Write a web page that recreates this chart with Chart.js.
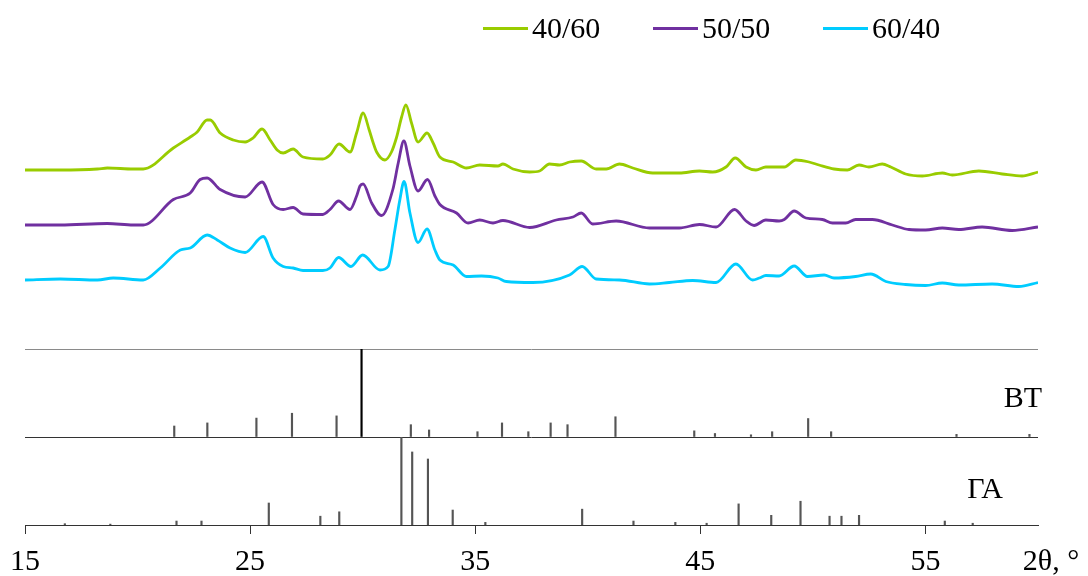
<!DOCTYPE html>
<html>
<head>
<meta charset="utf-8">
<script src="https://cdn.jsdelivr.net/npm/chart.js@4.4.1/dist/chart.umd.min.js"></script>
<style>
  html, body { margin: 0; padding: 0; background: #fff; }
  #wrap { position: relative; width: 1088px; height: 576px; }
  #legend {
    position: absolute; left: 483px; top: 10px;
    display: flex; font: 30px 'Liberation Serif', 'Times New Roman', serif;
    line-height: 36px; color: #000;
  }
  #legend .item { width: 170px; display: flex; align-items: center; }
  #legend .swatch { width: 45px; height: 3px; margin-right: 4px; }
</style>
</head>
<body>
<div id="wrap">
  <canvas id="xrdChart" width="1088" height="576"></canvas>
  <div id="legend"></div>
</div>
<script>
// x axis ticks (2θ, degrees)
const xTicks = [15, 25, 35, 45, 55];
const seriesLabels = ['40/60', '50/50', '60/40'];

// diffraction patterns: [2θ, intensity a.u.] (each relative to its own baseline)
const series40_60 = [
  [15.0, 0], [16.57, 0], [18.22, 1], [18.66, 2], [19.81, 1], [20.25, 1], [21.59, 22], [22.34, 33],
  [22.65, 38], [23.09, 50], [23.23, 50], [23.67, 37], [24.25, 30], [24.78, 28], [25.13, 32], [25.53, 41],
  [25.89, 30], [26.2, 20], [26.47, 17], [26.91, 21], [27.35, 13], [28.23, 11], [28.55, 15], [28.95, 26],
  [29.44, 18], [29.73, 37], [30.02, 57], [30.29, 40], [30.47, 27], [30.62, 18], [30.99, 10], [31.28, 18],
  [31.51, 33], [31.73, 53], [31.92, 65], [32.17, 47], [32.46, 28], [32.86, 37], [33.13, 27], [33.43, 13],
  [34.02, 8], [34.61, 2], [35.2, 5], [36.01, 4], [36.23, 6], [36.68, 1], [37.42, -2], [37.86, -1],
  [38.3, 6], [38.75, 5], [39.19, 8], [39.71, 9], [40.37, 1], [40.82, 1], [41.41, 6], [42.0, 2],
  [42.88, -3], [44.07, -3], [44.96, -1], [45.55, -2], [46.14, 3], [46.55, 12], [47.03, 3], [47.47, 0],
  [47.91, 3], [48.21, 3], [48.73, 3], [49.24, 10], [49.83, 8], [50.27, 5], [50.94, 1], [51.53, 0],
  [52.05, 5], [52.49, 3], [53.08, 6], [53.46, 3], [54.12, -4], [54.86, -6], [55.75, -3], [56.19, -5],
  [57.37, -1], [58.41, -4], [59.29, -6], [60.0, -2]
];
const series50_50 = [
  [15.0, 0], [16.57, 0], [18.66, 1.5], [19.81, 0], [20.25, 0], [21.59, 25.5], [22.34, 32], [22.78, 45.5],
  [23.09, 47], [23.67, 35.5], [24.78, 28], [25.53, 43], [26.02, 20.5], [26.47, 15.5], [26.91, 17.5], [27.35, 11],
  [28.23, 10.5], [28.55, 15.5], [28.93, 24], [29.44, 15.5], [29.73, 29], [29.88, 39], [30.02, 41], [30.4, 22],
  [30.84, 9.5], [31.34, 35.5], [31.58, 62], [31.83, 84], [32.1, 59], [32.46, 34], [32.88, 45.5], [33.21, 29],
  [33.43, 20.5], [34.17, 12], [34.68, 2], [35.2, 5], [35.79, 2], [36.23, 4.5], [37.42, -2.5], [38.6, 5],
  [39.34, 8], [39.71, 12], [40.22, 1], [41.26, 4], [42.74, -3], [44.07, -3], [44.96, 0.5], [45.7, -2],
  [46.52, 15.5], [47.03, 4], [47.39, -0.5], [47.91, 5], [48.5, 4], [48.73, 5.5], [49.17, 14], [49.69, 7],
  [50.42, 5.5], [50.87, 2], [51.46, 2], [51.9, 5.5], [52.64, 5.5], [53.53, 0], [54.27, -4.5], [55.01, -5],
  [55.75, -3], [56.48, -4.5], [57.52, -2], [58.85, -5.5], [60.0, -2]
];
const series60_40 = [
  [15.0, 0], [16.57, 1], [18.22, 0], [18.92, 2], [20.25, 0], [21.01, 12], [21.9, 30], [22.34, 32],
  [23.09, 45], [23.54, 40], [24.11, 32], [24.78, 27.5], [25.58, 43.5], [26.02, 22], [26.47, 13.5], [26.91, 12],
  [27.35, 9.5], [28.23, 9.5], [28.55, 12], [28.93, 22.5], [29.48, 13.5], [30.0, 25], [30.77, 10], [31.13, 13.5],
  [31.43, 50], [31.65, 80], [31.84, 98.5], [32.1, 67], [32.46, 37.5], [32.86, 51], [33.21, 30], [33.43, 20],
  [34.02, 15], [34.61, 3.5], [35.28, 4], [36.01, 2], [36.38, -1.5], [37.56, -2.5], [39.19, 5], [39.75, 13.5],
  [40.37, 1], [41.41, 0], [42.74, -4], [43.62, -2.5], [44.66, -0.5], [45.7, -2.5], [46.58, 16], [47.32, 0],
  [47.62, 2], [47.91, 4.5], [48.5, 4], [49.17, 14], [49.76, 3.5], [50.5, 5], [50.94, 2], [51.9, 3.5],
  [52.57, 6], [53.24, -1.5], [54.12, -4.5], [55.01, -5.5], [55.75, -3], [56.48, -5], [57.96, -4], [59.15, -6.5],
  [60.0, -2.5]
];

// reference stick patterns: [2θ, relative intensity %]
const btSticks = [
  [21.63, 12.5], [23.1, 16], [25.28, 21.5], [26.86, 27], [28.84, 24], [29.95, 100], [32.14, 14], [32.95, 8],
  [35.1, 6], [36.19, 16], [37.36, 6], [38.35, 16], [39.1, 14], [41.23, 23], [44.73, 7], [45.65, 4],
  [47.25, 2.5], [48.19, 6], [49.79, 21], [50.81, 6], [56.38, 3], [59.62, 3]
];
const gaSticks = [
  [16.77, 1.5], [18.79, 1], [21.73, 4.5], [22.84, 4.5], [25.83, 25], [28.12, 10], [28.96, 15], [31.72, 100],
  [32.2, 83], [32.9, 75], [34.0, 17], [35.45, 3], [39.75, 18], [42.03, 4.5], [43.89, 3], [45.28, 2],
  [46.7, 24], [48.15, 11], [49.45, 27], [50.74, 10], [51.27, 10], [52.05, 11], [55.86, 4.5], [57.1, 2]
];

const colors = ['#99cc00', '#7030a0', '#00ccff'];
const offsets = [179, 124, 69];   // vertical shift of each pattern
const serif = "'Liberation Serif', 'Times New Roman', serif";

Chart.defaults.font.family = serif;
Chart.defaults.color = '#000';

const traces = [series40_60, series50_50, series60_40].map((s, i) => ({
    type: 'line',
    label: seriesLabels[i],
    data: s.map(p => ({ x: p[0], y: p[1] + offsets[i] })),
    borderColor: colors[i],
    backgroundColor: colors[i],
    borderWidth: 2.8,
    pointRadius: 0,
    cubicInterpolationMode: 'monotone',
    yAxisID: 'yTrace'
}));

const sticks = (arr, axis) => ({
    type: 'bar',
    label: axis,
    data: arr.map(p => ({ x: p[0], y: p[1] })),
    backgroundColor: ctx => (ctx.raw && ctx.raw.y >= 100 && axis === 'yBT') ? '#000' : '#555',
    barThickness: 1.5,
    grouped: false,
    yAxisID: axis
});

// panel names and axis unit drawn as text
const annotations = {
    id: 'annotations',
    afterDraw(chart) {
        const { ctx, chartArea, scales } = chart;
        ctx.save();
        ctx.font = '30px ' + serif;
        ctx.fillStyle = '#000';
        ctx.textBaseline = 'middle';
        ctx.textAlign = 'right';
        ctx.fillText('BT', chartArea.right + 4, scales.yBT.getPixelForValue(43));
        ctx.fillText('ГА', chartArea.right - 35, scales.yGA.getPixelForValue(40));
        ctx.textAlign = 'center';
        ctx.fillText('2θ, °', chartArea.right + 13, scales.x.top + 37.5);
        ctx.restore();
    }
};

const hiddenY = { ticks: { display: false }, grid: { display: false, drawTicks: false }, border: { display: false } };

const chart = new Chart(document.getElementById('xrdChart'), {
    type: 'line',
    data: { datasets: [...traces, sticks(btSticks, 'yBT'), sticks(gaSticks, 'yGA')] },
    options: {
        responsive: false,
        animation: false,
        layout: { padding: { top: 60, left: 25, right: 50, bottom: 0 } },
        plugins: { legend: { display: false }, tooltip: { enabled: false } },
        scales: {
            x: {
                type: 'linear',
                min: 15,
                max: 60,
                offset: false,
                afterBuildTicks: axis => { axis.ticks = xTicks.map(v => ({ value: v })); },
                afterFit: axis => { axis.height = 51; axis.paddingLeft = 0; axis.paddingRight = 0; },
                ticks: { font: { size: 30, lineHeight: 0.9 }, padding: 15, maxRotation: 0, color: '#000' },
                grid: { offset: false, drawOnChartArea: false, drawTicks: true, tickLength: 9, tickColor: '#333' },
                border: { display: true, color: '#333', width: 1 }
            },
            // stacked panels, listed bottom to top
            yGA: {
                type: 'linear', position: 'left', stack: 'panels', stackWeight: 88,
                min: 0, max: 100, ...hiddenY
            },
            yBT: {
                type: 'linear', position: 'left', stack: 'panels', stackWeight: 88,
                min: 0, max: 100,
                afterBuildTicks: axis => { axis.ticks = [{ value: 0 }, { value: 100 }]; },
                ticks: { display: false },
                grid: { drawTicks: false, color: c => c.tick && c.tick.value === 100 ? '#8a8a8a' : '#333' },
                border: { display: false }
            },
            yTrace: {
                type: 'linear', position: 'left', stack: 'panels', stackWeight: 289,
                min: 0, max: 289, ...hiddenY
            }
        }
    },
    plugins: [annotations]
});

// legend built from the line datasets
const legend = document.getElementById('legend');
traces.forEach(ds => {
    const item = document.createElement('div');
    item.className = 'item';
    const sw = document.createElement('span');
    sw.className = 'swatch';
    sw.style.background = ds.borderColor;
    const txt = document.createElement('span');
    txt.textContent = ds.label;
    item.append(sw, txt);
    legend.appendChild(item);
});
</script>
</body>
</html>
